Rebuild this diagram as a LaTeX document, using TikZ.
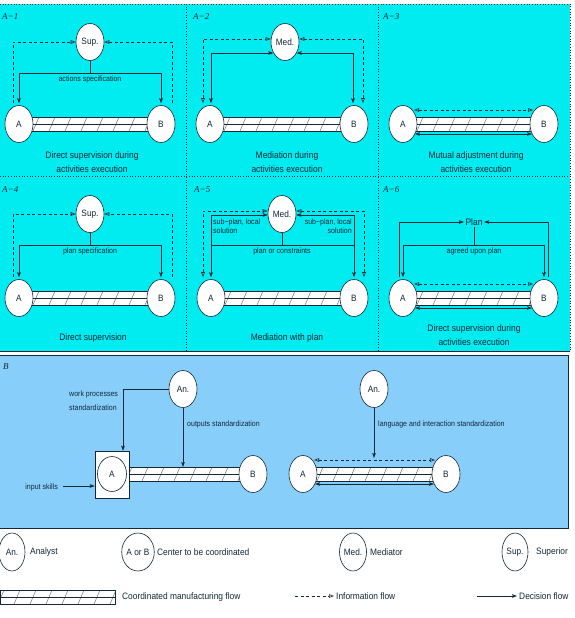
\documentclass[tikz,border=0pt]{standalone}
\usepackage{fontspec}
\setmainfont{Liberation Sans}[FakeStretch=0.9]
\newfontfamily\serifit{Liberation Serif}
\usetikzlibrary{shapes.geometric,arrows.meta,calc}
\definecolor{cyanbg}{RGB}{0,236,240}
\definecolor{bluebg}{RGB}{135,206,250}
\definecolor{lc}{RGB}{20,40,55}
\definecolor{hc}{RGB}{80,95,105}
\pgfdeclarelayer{back}
\pgfdeclarelayer{mid}
\pgfsetlayers{back,mid,main}
\tikzset{
  ctr/.style={ellipse, draw=lc, fill=white, minimum width=28pt, minimum height=37pt,
    inner sep=0pt, font=\fontsize{9.2}{10}\selectfont, text=lc, line width=0.6pt},
  conn/.style={draw=lc, line width=0.6pt},
  dec/.style={conn, -{Stealth[length=5pt,width=3.6pt,inset=1pt]}},
  decb/.style={conn, {Stealth[length=5pt,width=3.6pt,inset=1pt]}-{Stealth[length=5pt,width=3.6pt,inset=1pt]}},
  info/.style={conn, dash pattern=on 3pt off 2.5pt, -{Triangle[open,length=5pt,width=3.6pt]}},
  infob/.style={conn, dash pattern=on 3pt off 2.5pt, {Triangle[open,length=5pt,width=3.6pt]}-{Triangle[open,length=5pt,width=3.6pt]}},
  lbl/.style={font=\fontsize{7.8}{9}\selectfont, text=lc, inner sep=1pt},
  captxt/.style={font=\fontsize{9.4}{14.5}\selectfont, text=lc, align=center, inner sep=0pt},
  ltext/.style={font=\fontsize{9.3}{11}\selectfont, text=lc, anchor=west, inner sep=1pt},
  plab/.style={font=\serifit\itshape\fontsize{9}{10}\selectfont, text=lc, anchor=west, inner sep=0pt},
  sepline/.style={draw=lc, line width=0.7pt, dotted},
}
\newcommand\flowbar[2]{%
  \begin{pgfonlayer}{mid}
  \path (#1) coordinate (fbl) (#2) coordinate (fbr);
  \fill[white] ($(fbl)+(0,-7)$) rectangle ($(fbr)+(0,7)$);
  \begin{scope}
    \clip ($(fbl)+(0,-7)$) rectangle ($(fbr)+(0,7)$);
    \foreach \k in {0,...,12} {\draw[draw=hc, line width=0.4pt] ($(fbl)+(\k*16-2,7)$) -- ++(6,-14);}
  \end{scope}
  \draw[lc, line width=0.5pt] ($(fbl)+(0,-7)$) rectangle ($(fbr)+(0,7)$);
  \draw[lc, line width=0.4pt] (fbl) -- (fbr);
  \end{pgfonlayer}}
\begin{document}
\begin{tikzpicture}[x=1pt,y=-1pt]
\useasboundingbox (0,0) rectangle (574,618);
\begin{pgfonlayer}{back}
  \fill[cyanbg] (0,4) rectangle (570,351);
  \draw[sepline] (0,4) -- (570,4) -- (570,351);
  \draw[lc, line width=0.8pt] (0,351) -- (570,351);
  \draw[sepline] (0,176) -- (570,176);
  \draw[sepline] (186,4) -- (186,351);
  \draw[sepline] (378,4) -- (378,351);
  \fill[bluebg] (0,355) rectangle (568,528);
  \draw[lc, line width=0.8pt] (0,355) -- (568,355) -- (568,528) -- (0,528);
\end{pgfonlayer}

% ---------------- A-1
\node[plab] (L1) at (2,17) {A−1};
\node[ctr] (S1) at (90,42) {Sup.};
\node[ctr] (A1) at (19,124) {A};
\node[ctr] (B1) at (161,124) {B};
\flowbar{A1.center}{B1.center}
\draw[info] ($(A1.north)+(-6,-2)$) |- (S1.west);
\draw[info] ($(B1.north)+(11,-2)$) |- (S1.east);
\draw[conn] (S1.south) -- ++(0,12) coordinate (h1);
\draw[dec] (h1) -| ($(A1.north)+(0,-2)$);
\draw[dec] (h1) -| ($(B1.north)+(0,-2)$);
\node[lbl, below=1.5pt] (T1) at (h1) {actions specification};
\node[captxt] (C1) at (92,162) {Direct supervision during\\activities execution};

% ---------------- A-2
\node[plab] (L2) at (193,17) {A−2};
\node[ctr] (M2) at (285,42) {Med.};
\node[ctr] (A2) at (210,124) {A};
\node[ctr] (B2) at (354,124) {B};
\flowbar{A2.center}{B2.center}
\draw[infob] ($(A2.north)+(-7,-2)$) |- ($(M2.west)+(0,-3)$);
\draw[infob] ($(B2.north)+(9,-2)$) |- ($(M2.east)+(0,-3)$);
\draw[decb] ($(A2.north)+(1,-2)$) |- ($(M2.west)+(2.6,11)$);
\draw[decb] ($(B2.north)+(-1,-2)$) |- ($(M2.east)+(-2.6,11)$);
\node[captxt] (C2) at (287,162) {Mediation during\\activities execution};

% ---------------- A-3
\node[plab] (L3) at (383,17) {A−3};
\node[ctr] (A3) at (403,124) {A};
\node[ctr] (B3) at (544,124) {B};
\flowbar{A3.center}{B3.center}
\draw[infob] ($(A3.center)+(11,-14)$) -- ($(B3.center)+(-11,-14)$);
\draw[decb] ($(A3.center)+(12,10)$) -- ($(B3.center)+(-12,10)$);
\node[captxt] (C3) at (476,162) {Mutual adjustment during\\activities execution};

% ---------------- A-4
\node[plab] (L4) at (2,190) {A−4};
\node[ctr] (S4) at (90,214) {Sup.};
\node[ctr] (A4) at (19,298) {A};
\node[ctr] (B4) at (161,298) {B};
\flowbar{A4.center}{B4.center}
\draw[info] ($(A4.north)+(-6,-2)$) |- (S4.west);
\draw[info] ($(B4.north)+(11,-2)$) |- (S4.east);
\draw[conn] (S4.south) -- ++(0,12) coordinate (h4);
\draw[dec] (h4) -| ($(A4.north)+(0,-2)$);
\draw[dec] (h4) -| ($(B4.north)+(0,-2)$);
\node[lbl, below=1.5pt] (T4) at (h4) {plan specification};
\node[captxt] (C4) at (93,338) {Direct supervision};

% ---------------- A-5
\node[plab] (L5) at (194,190) {A−5};
\node[ctr] (M5) at (282,214) {Med.};
\node[ctr] (A5) at (211,298) {A};
\node[ctr] (B5) at (354,298) {B};
\flowbar{A5.center}{B5.center}
\draw[infob] ($(A5.north)+(-8,-2)$) |- ($(M5.west)+(0,-3)$);
\draw[infob] ($(B5.north)+(10,-2)$) |- ($(M5.east)+(0,-3)$);
\draw[conn] (M5.south) -- ++(0,12) coordinate (h5);
\draw[dec] (h5) -| ($(A5.north)+(0,-2)$);
\draw[dec] (h5) -| ($(B5.north)+(0,-2)$);
\draw[dec] (h5 -| A5) |- ($(M5.west)+(0,1)$);
\draw[dec] (h5 -| B5) |- ($(M5.east)+(0,1)$);
\node[lbl, below=1.5pt] (T5) at (h5) {plan or constraints};
\node[lbl, align=left, anchor=north west] (T5a) at (212,218) {sub−plan, local\\solution};
\node[lbl, align=right, anchor=north east] (T5b) at (353,218) {sub−plan, local\\solution};
\node[captxt] (C5) at (287,338) {Mediation with plan};

% ---------------- A-6
\node[plab] (L6) at (383,190) {A−6};
\node[font=\fontsize{9.4}{10}\selectfont, text=lc, inner sep=1.5pt] (P6) at (474,222) {Plan};
\node[ctr] (A6) at (403,298) {A};
\node[ctr] (B6) at (544,298) {B};
\flowbar{A6.center}{B6.center}
\draw[dec] ($(A6.north)+(-4,-2)$) |- (P6.west);
\draw[dec] ($(B6.north)+(4,-2)$) |- (P6.east);
\draw[conn] (P6.south) -- ($(P6.center)+(0,23)$) coordinate (h6);
\draw[dec] (h6) -| ($(A6.north)+(0,-2)$);
\draw[dec] (h6) -| ($(B6.north)+(0,-2)$);
\node[lbl, below=1.5pt] (T6) at (h6) {agreed upon plan};
\draw[infob] ($(A6.center)+(11,-14)$) -- ($(B6.center)+(-11,-14)$);
\draw[decb] ($(A6.center)+(12,10)$) -- ($(B6.center)+(-12,10)$);
\node[captxt] (C6) at (474,335) {Direct supervision during\\activities execution};

% ---------------- B
\node[plab] (LB) at (3,367) {B};
\node[ctr] (An1) at (183,389) {An.};
\node[draw=lc, fill=white, minimum width=34pt, minimum height=47pt, line width=0.6pt, inner sep=0pt] (Box) at (112,474.5) {};
\node[ctr, minimum width=29pt, minimum height=35pt] (A7) at (112,474) {A};
\node[ctr] (B7) at (253,474) {B};
\flowbar{A7.center}{B7.center}
\draw[dec] (An1.west) -| ($(Box.north)+(11,0)$);
\node[lbl, align=left, anchor=north west, font=\fontsize{7.8}{14}\selectfont] (T7a) at (68,390) {work processes\\standardization};
\draw[dec] (An1.south) -- ($(An1 |- A7)+(0,-7)$);
\node[lbl, anchor=west] (T7b) at (186,424) {outputs standardization};
\node[lbl, anchor=east] (IS) at (59,487) {input skills};
\draw[dec] ($(IS.east)+(4,-1)$) -- ($(IS.east -| Box.west)+(0,-1)$);

\node[ctr] (An2) at (374,389) {An.};
\node[ctr] (A8) at (303,474) {A};
\node[ctr] (B8) at (446,474) {B};
\flowbar{A8.center}{B8.center}
\draw[infob] ($(A8.center)+(11,-14)$) -- ($(B8.center)+(-11,-14)$);
\draw[decb] ($(A8.center)+(12,10)$) -- ($(B8.center)+(-12,10)$);
\draw[dec] (An2.south) -- ($(An2 |- A8)+(0,-16)$);
\node[lbl, anchor=west] (T8) at (377,424) {language and interaction standardization};

% ---------------- legend
\node[ctr, minimum width=26pt, minimum height=38pt] (LAn) at (12,552) {An.};
\node[ltext] (LAnT) at (29,552) {Analyst};
\node[ctr, minimum width=30pt, minimum height=38pt] (LAB) at (138,552) {A or B};
\node[ltext] (LABT) at (156,552) {Center to be coordinated};
\node[ctr, minimum width=27pt, minimum height=38pt] (LMed) at (353,552) {Med.};
\node[ltext] (LMedT) at (369,552) {Mediator};
\node[ctr, minimum width=26pt, minimum height=38pt] (LSup) at (515,552) {Sup.};
\node[ltext] (LSupT) at (535,552) {Superior};
\coordinate (LbL) at (0,597);
\coordinate (LbR) at (115,597);
\flowbar{LbL}{LbR}
\node[ltext] (LbT) at (121,597) {Coordinated manufacturing flow};
\coordinate (Li1) at (295,596);
\coordinate (Li2) at (334,596);
\draw[info] (Li1) -- (Li2);
\node[ltext] (LiT) at (335,596) {Information flow};
\coordinate (Ld1) at (477,596);
\coordinate (Ld2) at (517,596);
\draw[dec] (Ld1) -- (Ld2);
\node[ltext] (LdT) at (518,596) {Decision flow};
\end{tikzpicture}
\end{document}
